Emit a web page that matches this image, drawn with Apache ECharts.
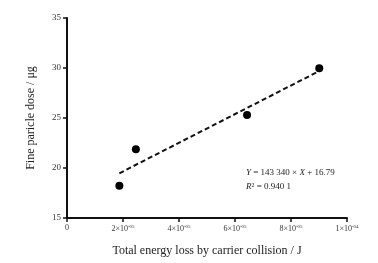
<!DOCTYPE html>
<html>
<head>
<meta charset="utf-8">
<script src="https://cdn.jsdelivr.net/npm/echarts@6/dist/echarts.min.js"></script>
<style>
  html, body { margin: 0; padding: 0; background: #fff; }
  #main { width: 378px; height: 263px; }
</style>
</head>
<body>
<div id="main"></div>
<script>
// measured points
var energyLoss = [1.87e-5, 2.46e-5, 6.43e-5, 9.01e-5];
var particleDose = [18.23, 21.87, 25.3, 29.97];
// fitted line ends (Y = 143340 X + 16.79)
var fitX = [1.87e-5, 9.01e-5];
var fitY = [19.47, 29.7];
var xTickLabels = ['0', '2', '4', '6', '8', '1'];
var xTickExp = ['', '-05', '-05', '-05', '-05', '-04'];

var serif = '"Liberation Serif", "DejaVu Serif", serif';

var chart = echarts.init(document.getElementById('main'));

var option = {
  backgroundColor: '#fff',
  animation: false,
  grid: { left: 67, right: 31, top: 18, bottom: 45 },
  xAxis: {
    type: 'value',
    min: 0,
    max: 1e-4,
    interval: 2e-5,
    name: 'Total energy loss by carrier collision / J',
    nameLocation: 'middle',
    nameGap: 27,
    nameTextStyle: { fontFamily: serif, fontSize: 12, color: '#222' },
    axisLine: { lineStyle: { color: '#111', width: 2 } },
    axisTick: { length: 4, lineStyle: { color: '#111', width: 1.5 } },
    splitLine: { show: false },
    axisLabel: {
      margin: 6,
      formatter: function (v) {
        var i = Math.round(v / 2e-5);
        if (i === 0) return '{b|0}';
        return '{b|' + xTickLabels[i] + '×10}{s|' + xTickExp[i] + '}';
      },
      rich: {
        b: { fontFamily: serif, fontSize: 8, color: '#333' },
        s: { fontFamily: serif, fontSize: 5, color: '#333', verticalAlign: 'top', padding: [0, 0, 5, 0] }
      }
    }
  },
  yAxis: {
    type: 'value',
    min: 15,
    max: 35,
    interval: 5,
    name: 'Fine paricle dose / μg',
    nameLocation: 'middle',
    nameGap: 30,
    nameTextStyle: { fontFamily: serif, fontSize: 12, color: '#222' },
    axisLine: { show: true, lineStyle: { color: '#111', width: 2 } },
    axisTick: { show: true, length: 4, lineStyle: { color: '#111', width: 1.5 } },
    splitLine: { show: false },
    axisLabel: { margin: 6, fontFamily: serif, fontSize: 9, color: '#333' }
  },
  series: [
    {
      type: 'line',
      data: fitX.map(function (x, i) { return [x, fitY[i]]; }),
      showSymbol: false,
      lineStyle: { color: '#111', width: 2, type: [5, 3] },
      z: 2
    },
    {
      type: 'scatter',
      data: energyLoss.map(function (x, i) { return [x, particleDose[i]]; }),
      symbolSize: 8,
      itemStyle: { color: '#000', opacity: 1 },
      z: 3
    }
  ],
  graphic: [
    {
      type: 'text',
      left: 246,
      top: 168,
      style: {
        text: '{i|Y} = 143 340 × {i|X} + 16.79',
        rich: {
          i: { fontFamily: serif, fontSize: 9, fontStyle: 'italic', fill: '#222' }
        },
        fontFamily: serif,
        fontSize: 9,
        fill: '#222'
      }
    },
    {
      type: 'text',
      left: 246,
      top: 182,
      style: {
        text: '{i|R}{s|2} = 0.940 1',
        rich: {
          i: { fontFamily: serif, fontSize: 9, fontStyle: 'italic', fill: '#222' },
          s: { fontFamily: serif, fontSize: 6, fill: '#222', verticalAlign: 'top', padding: [0, 0, 4, 0] }
        },
        fontFamily: serif,
        fontSize: 9,
        fill: '#222'
      }
    }
  ]
};

chart.setOption(option);
</script>
</body>
</html>
